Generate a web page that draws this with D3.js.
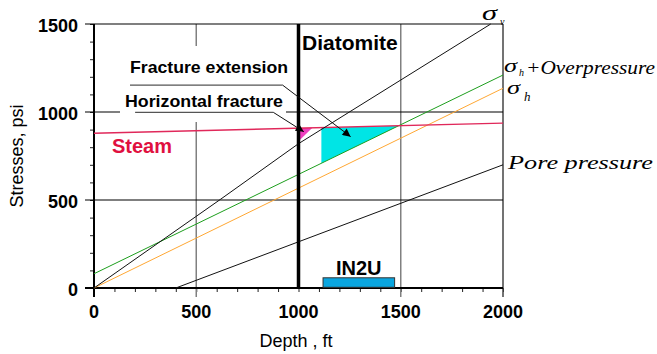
<!DOCTYPE html>
<html>
<head>
<meta charset="utf-8">
<script src="https://d3js.org/d3.v7.min.js"></script>
<style>
  body { margin: 0; background: #fff; }
  svg { display: block; }
</style>
</head>
<body>
<script>
// data (depth in ft, stress in psi)
const xTicks = [0, 500, 1000, 1500, 2000];
const yTicks = [0, 500, 1000, 1500];
const xMinor = d3.range(0, 2001, 100);
const yMinor = d3.range(0, 1501, 100);

const sigmaV = [[0, 0], [620, 505], [1000, 820], [1940, 1500]];
const sigmaHOver = [[0, 81], [2000, 1210]];
const sigmaH = [[0, 0], [2000, 1135]];
const steam = [[0, 879], [2000, 937]];
const porePressure = [[400, 0], [2000, 700]];

const fractureExt = [[1112, 911], [1490, 922], [1112, 709]];
const horizFrac = [[1000, 909], [1000, 834], [1068, 911]];

const diatomiteDepth = 1000;
const in2uDepth = [1120, 1470];
const in2uStress = [4, 58];

// callouts: underline start, underline end, arrow tip (data units)
const extCallout = [[176, 1153], [922, 1153], [1255, 860]];
const horCallout = [[201, 998], [877, 998], [1026, 888]];

const svg = d3.select("body").append("svg")
  .attr("width", 657).attr("height", 354);

const x = d3.scaleLinear().domain([0, 2000]).range([94, 503]);
const y = d3.scaleLinear().domain([0, 1500]).range([288, 24]);

const sans = "Arial, 'Liberation Sans', sans-serif";
const serif = "'Times New Roman', 'Liberation Serif', serif";

svg.append("defs").append("marker")
  .attr("id", "arrow")
  .attr("viewBox", "0 0 10 10")
  .attr("refX", 10).attr("refY", 5)
  .attr("markerWidth", 10).attr("markerHeight", 8)
  .attr("markerUnits", "userSpaceOnUse")
  .attr("orient", "auto")
  .append("path").attr("d", "M0,0 L10,5 L0,10 Z").attr("fill", "#000");

// minor ticks
svg.append("g").attr("transform", `translate(0,${y(0)})`)
  .call(d3.axisBottom(x).tickValues(xMinor).tickSize(4).tickFormat(""))
  .call(g => g.select(".domain").remove())
  .call(g => g.selectAll("line").attr("stroke", "#222"));
svg.append("g").attr("transform", `translate(${x(0)},0)`)
  .call(d3.axisLeft(y).tickValues(yMinor).tickSize(4).tickFormat(""))
  .call(g => g.select(".domain").remove())
  .call(g => g.selectAll("line").attr("stroke", "#222"));

// vertical grid / frame lines
svg.append("g").selectAll("line").data(xTicks.filter(d => d !== diatomiteDepth))
  .join("line")
  .attr("x1", d => x(d)).attr("x2", d => x(d))
  .attr("y1", y(1500)).attr("y2", y(0) + 9)
  .attr("stroke", d => d === 0 ? "#000" : (d === 2000 ? "#444" : "#808080"))
  .attr("stroke-width", d => d === 0 ? 2 : 1.5);

// horizontal grid / frame lines
svg.append("g").selectAll("line").data(yTicks)
  .join("line")
  .attr("x1", x(0) - 9).attr("x2", x(2000))
  .attr("y1", d => y(d)).attr("y2", d => y(d))
  .attr("stroke", "#000")
  .attr("stroke-width", d => d === 0 ? 2 : 1.2);

// shaded fracture regions
svg.append("polygon")
  .attr("points", fractureExt.map(d => [x(d[0]), y(d[1])].join(",")).join(" "))
  .attr("fill", "#00e5e5");
svg.append("polygon")
  .attr("points", horizFrac.map(d => [x(d[0]), y(d[1])].join(",")).join(" "))
  .attr("fill", "#ee3fbf");

const line = d3.line().x(d => x(d[0])).y(d => y(d[1]));

const series = [
  { data: sigmaHOver, color: "#1d9e1d", w: 1 },
  { data: sigmaH, color: "#ffa733", w: 1 },
  { data: porePressure, color: "#111", w: 1 },
  { data: steam, color: "#e0285a", w: 1.4 },
  { data: sigmaV, color: "#111", w: 1 }
];
svg.append("g").selectAll("path").data(series).join("path")
  .attr("d", d => line(d.data))
  .attr("fill", "none")
  .attr("stroke", d => d.color)
  .attr("stroke-width", d => d.w);

// diatomite boundary
svg.append("line")
  .attr("x1", x(diatomiteDepth)).attr("x2", x(diatomiteDepth))
  .attr("y1", y(1500)).attr("y2", y(0))
  .attr("stroke", "#000").attr("stroke-width", 3.5);

// IN2U interval
svg.append("rect")
  .attr("x", x(in2uDepth[0])).attr("y", y(in2uStress[1]))
  .attr("width", x(in2uDepth[1]) - x(in2uDepth[0]))
  .attr("height", y(in2uStress[0]) - y(in2uStress[1]))
  .attr("fill", "#0aa6e0").attr("stroke", "#333").attr("stroke-width", 1);

// label backdrop
svg.append("rect")
  .attr("x", 120).attr("y", 46).attr("width", 166).attr("height", 76)
  .attr("fill", "#fff");

// callouts
[extCallout, horCallout].forEach(c => {
  svg.append("line")
    .attr("x1", x(c[0][0])).attr("x2", x(c[1][0]))
    .attr("y1", y(c[0][1])).attr("y2", y(c[1][1]))
    .attr("stroke", "#555").attr("stroke-width", 1.2);
  svg.append("line")
    .attr("x1", x(c[1][0])).attr("y1", y(c[1][1]))
    .attr("x2", x(c[2][0])).attr("y2", y(c[2][1]))
    .attr("stroke", "#111").attr("stroke-width", 1)
    .attr("marker-end", "url(#arrow)");
});

// tick labels
svg.append("g").selectAll("text").data(yTicks).join("text")
  .attr("x", 78).attr("y", d => y(d) + 7.5)
  .attr("text-anchor", "end")
  .attr("font-family", sans).attr("font-weight", "bold").attr("font-size", 18)
  .text(d => d);
svg.append("g").selectAll("text").data(xTicks).join("text")
  .attr("x", d => x(d)).attr("y", y(0) + 30)
  .attr("text-anchor", "middle")
  .attr("font-family", sans).attr("font-weight", "bold").attr("font-size", 18)
  .text(d => d);

// axis titles
svg.append("text")
  .attr("x", 296).attr("y", 346.5)
  .attr("text-anchor", "middle")
  .attr("font-family", sans).attr("font-size", 18)
  .text("Depth , ft");
svg.append("text")
  .attr("transform", "translate(23,156) rotate(-90)")
  .attr("text-anchor", "middle")
  .attr("font-family", sans).attr("font-size", 18)
  .text("Stresses, psi");

// annotations
function label(t, px, py, size, opts = {}) {
  const el = svg.append("text")
    .attr("x", px).attr("y", py)
    .attr("font-family", opts.family || sans)
    .attr("font-size", size)
    .attr("font-weight", opts.bold === false ? "normal" : "bold")
    .attr("font-style", opts.italic ? "italic" : "normal")
    .attr("fill", opts.color || "#000")
    .text(t);
  if (opts.len) el.attr("textLength", opts.len).attr("lengthAdjust", "spacingAndGlyphs");
  return el;
}
label("Fracture extension", 130, 73, 17, { len: 158 });
label("Horizontal fracture", 125, 107, 17, { len: 158 });
label("Diatomite", 302, 50, 21);
label("Steam", 112, 153, 20, { color: "#e0103f" });
label("IN2U", 336, 275, 20);

const ser = { family: serif, bold: false, italic: true };
label("σ", 482, 20, 21, { ...ser, len: 15 });
label("v", 500, 25, 10, ser);
label("σ", 504, 72, 19, { ...ser, len: 13 });
label("h", 519, 76, 10, ser);
label("+Overpressure", 526, 73.5, 18, { ...ser, len: 129 });
label("σ", 507, 94, 19, { ...ser, len: 13 });
label("h", 524, 101, 13, ser);
label("Pore pressure", 508, 169, 19, { ...ser, len: 145 });
</script>
</body>
</html>
